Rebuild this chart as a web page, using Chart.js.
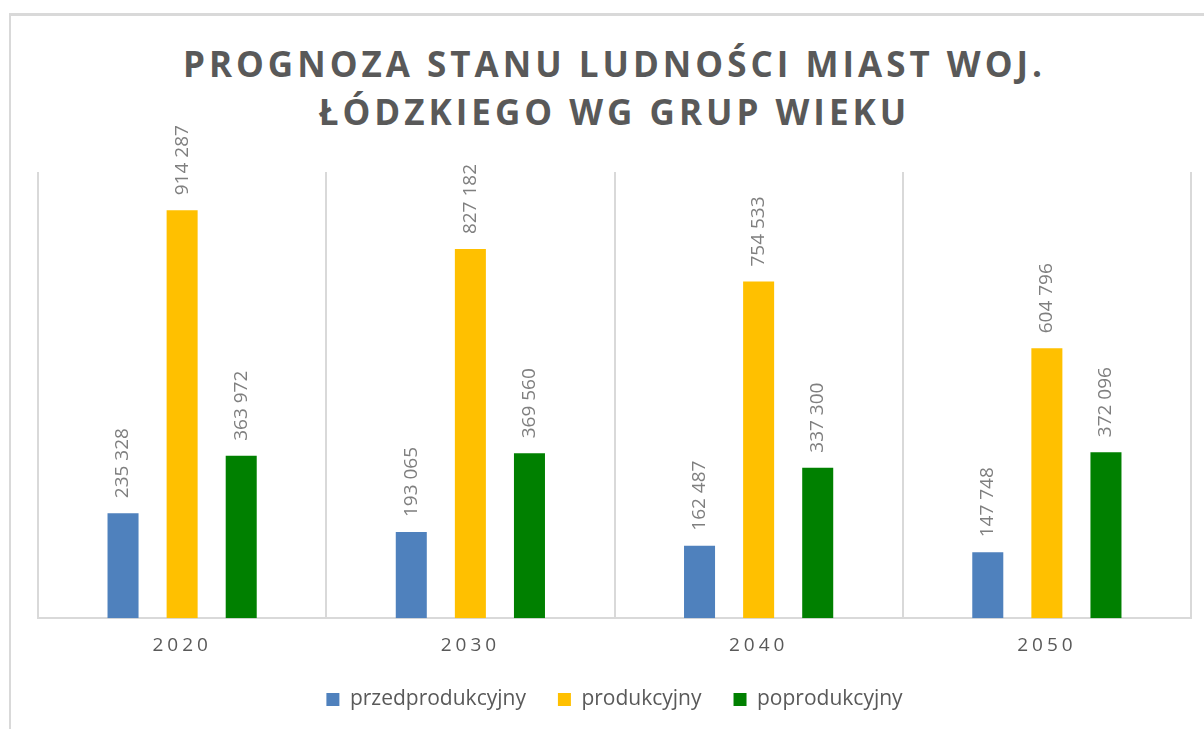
<!DOCTYPE html>
<html>
<head>
<meta charset="utf-8">
<script src="https://cdn.jsdelivr.net/npm/chart.js@4.4.0/dist/chart.umd.min.js"></script>
<style>
  html, body { margin: 0; padding: 0; background: #ffffff; }
  #wrap { position: relative; width: 1204px; height: 729px; background: #ffffff; overflow: hidden; }
  #frame { position: absolute; left: 9px; top: 13px; right: -10px; bottom: -10px; border-top: 3px solid #d9d9d9; border-left: 2px solid #d9d9d9; }
  #title { position: absolute; left: 38px; width: 1153px; top: 40px; text-align: center;
           font-family: "Open Sans", sans-serif; font-weight: bold; font-size: 35px; line-height: 48px;
           letter-spacing: 4px; color: #595959; }
  #myChart { position: absolute; left: 0; top: 0; }
</style>
</head>
<body>
<div id="wrap">
  <div id="frame"></div>
  <div id="title">PROGNOZA STANU LUDNOŚCI MIAST WOJ.<br>ŁÓDZKIEGO WG GRUP WIEKU</div>
  <canvas id="myChart" width="1204" height="729"></canvas>
</div>
<script>
var years = ['2020', '2030', '2040', '2050'];
var przedprodukcyjny = [235328, 193065, 162487, 147748];
var produkcyjny = [914287, 827182, 754533, 604796];
var poprodukcyjny = [363972, 369560, 337300, 372096];

function formatNumber(v) {
    return String(v).replace(/\B(?=(\d{3})+(?!\d))/g, ' ');
}

// rotated value labels above the bars
var barLabels = {
    id: 'barLabels',
    afterDatasetsDraw: function (chart) {
        var ctx = chart.ctx;
        ctx.save();
        ctx.font = '19px "Open Sans"';
        ctx.fillStyle = '#7f7f7f';
        ctx.textAlign = 'left';
        ctx.textBaseline = 'middle';
        chart.data.datasets.forEach(function (ds, i) {
            chart.getDatasetMeta(i).data.forEach(function (bar, j) {
                ctx.save();
                ctx.translate(bar.x, bar.y - 15);
                ctx.rotate(-Math.PI / 2);
                ctx.fillText(formatNumber(ds.data[j]), 0, 0);
                ctx.restore();
            });
        });
        ctx.restore();
    }
};

// spaced out year labels
var spacedTicks = {
    id: 'spacedTicks',
    beforeDraw: function (chart) {
        var sc = chart.scales.x;
        if (sc._spaced) return;
        var orig = sc.drawLabels;
        sc.drawLabels = function (area) {
            this.ctx.save();
            this.ctx.letterSpacing = '4px';
            orig.call(this, area);
            this.ctx.restore();
        };
        sc._spaced = true;
    }
};

// pull the legend a bit closer to the axis
var legendShift = {
    id: 'legendShift',
    afterLayout: function (chart) {
        chart.legend.top -= 16;
        chart.legend.bottom -= 16;
    }
};

new Chart(document.getElementById('myChart'), {
    type: 'bar',
    data: {
        labels: years,
        datasets: [{
            label: 'przedprodukcyjny',
            data: przedprodukcyjny,
            backgroundColor: '#4f81bd'
        }, {
            label: 'produkcyjny',
            data: produkcyjny,
            backgroundColor: '#ffc000'
        }, {
            label: 'poprodukcyjny',
            data: poprodukcyjny,
            backgroundColor: '#008000'
        }]
    },
    options: {
        responsive: false,
        animation: false,
        layout: { padding: { left: 38, right: 13, top: 172, bottom: -7 } },
        datasets: { bar: { categoryPercentage: 0.615, barPercentage: 0.525 } },
        plugins: {
            title: { display: false },
            tooltip: { enabled: false },
            legend: {
                position: 'bottom',
                labels: {
                    font: { family: 'Open Sans', size: 21, lineHeight: 0.8 },
                    color: '#595959',
                    boxWidth: 13,
                    boxHeight: 13,
                    padding: 32
                }
            }
        },
        scales: {
            x: {
                grid: { offset: true, color: '#d9d9d9', lineWidth: 2, drawTicks: false },
                border: { color: '#d9d9d9', width: 2 },
                ticks: { font: { family: 'Open Sans', size: 19 }, color: '#595959', padding: 16 }
            },
            y: {
                display: false,
                min: 0,
                max: 1000000
            }
        }
    },
    plugins: [barLabels, spacedTicks, legendShift]
});
</script>
</body>
</html>
